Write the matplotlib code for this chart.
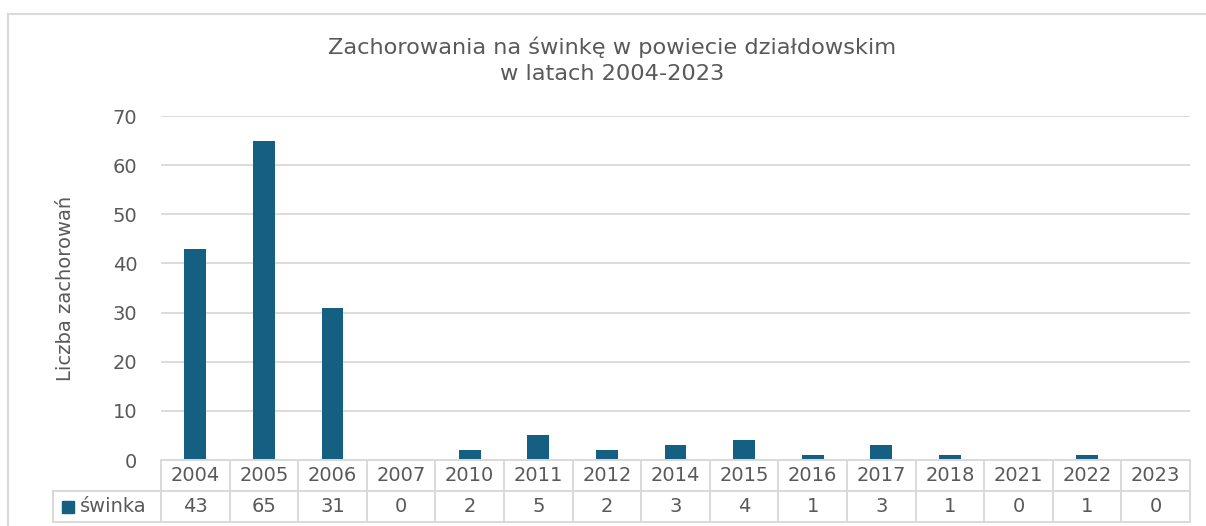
import matplotlib
matplotlib.use("Agg")
import matplotlib.pyplot as plt
from matplotlib.transforms import blended_transform_factory
from matplotlib.patches import Rectangle
from matplotlib.lines import Line2D

years = ["2004", "2005", "2006", "2007", "2010", "2011", "2012", "2014",
         "2015", "2016", "2017", "2018", "2021", "2022", "2023"]
swinka = [43, 65, 31, 0, 2, 5, 2, 3, 4, 1, 3, 1, 0, 1, 0]
series_name = "świnka"
title = "Zachorowania na świnkę w powiecie działdowskim\nw latach 2004-2023"
ylabel = "Liczba zachorowań"
yticks = [0, 10, 20, 30, 40, 50, 60, 70]

W, H = 1206, 526
BAR = "#156082"
TXT = "#595959"
GRID = "#d9d9d9"
FS = 14
plt.rcParams['font.family'] = ['DejaVu Sans']

fig = plt.figure(figsize=(W / 100, H / 100), dpi=100)
fig.patch.set_facecolor("white")

def fx(px):
    return px / W

def fy(py):
    return 1 - py / H

left, right, top, bottom = 161, 1190, 116, 460
ax = fig.add_axes([fx(left), fy(bottom), fx(right) - fx(left), fy(top) - fy(bottom)])
x = list(range(len(years)))
ax.bar(x, swinka, width=0.32, color=BAR, zorder=3)
ax.set_xlim(-0.5, len(years) - 0.5)
ax.set_ylim(0, 70)
ax.set_yticks(yticks)
ax.set_xticks([])
ax.tick_params(axis='y', length=0, pad=17, labelsize=FS, labelcolor=TXT)
for s in ax.spines.values():
    s.set_visible(False)
ax.yaxis.grid(True, color=GRID, linewidth=1.3, zorder=0)
ax.set_axisbelow(True)
ax.set_ylabel(ylabel, fontsize=FS, color=TXT, labelpad=27)

# chart border (left and top)
fig.add_artist(Line2D([fx(8), fx(8)], [fy(14), 0], color=GRID, lw=1.5))
fig.add_artist(Line2D([fx(8), 1], [fy(14), fy(14)], color=GRID, lw=1.5))

fig.text(0.5075, fy(60), title, ha='center', va='center', fontsize=16.2,
         color=TXT, linespacing=1.38)

# data table
tr = blended_transform_factory(ax.transData, fig.transFigure)
y0, y1, y2 = fy(460), fy(491), fy(522)
n = len(years)
lc = dict(color=GRID, lw=1.4, clip_on=False)
x_left_cell = -0.5 - (161 - 53) / ((right - left) / n)
fig.add_artist(Line2D([-0.5, n - 0.5], [y0, y0], transform=tr, **lc))
fig.add_artist(Line2D([x_left_cell, n - 0.5], [y1, y1], transform=tr, **lc))
fig.add_artist(Line2D([x_left_cell, n - 0.5], [y2, y2], transform=tr, **lc))
for i in range(n + 1):
    fig.add_artist(Line2D([i - 0.5, i - 0.5], [y0, y2], transform=tr, **lc))
fig.add_artist(Line2D([x_left_cell, x_left_cell], [y1, y2], transform=tr, **lc))

for i, (yr, v) in enumerate(zip(years, swinka)):
    fig.text(i, (y0 + y1) / 2, yr, transform=tr, ha='center', va='center',
             fontsize=FS, color=TXT)
    fig.text(i, (y1 + y2) / 2, str(v), transform=tr, ha='center', va='center',
             fontsize=FS, color=TXT)

# legend key in table
fig.add_artist(Rectangle((fx(62), fy(513)), fx(74) - fx(62), fy(501) - fy(513),
                         color=BAR, transform=fig.transFigure))
fig.text(fx(80), (y1 + y2) / 2, series_name, ha='left', va='center',
         fontsize=FS, color=TXT)

fig.savefig("out.png", dpi=100, facecolor="white")
